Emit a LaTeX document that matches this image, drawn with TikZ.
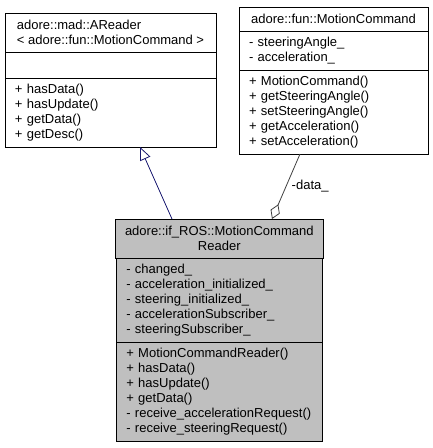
\documentclass[tikz,border=0pt]{standalone}
\usepackage{fontspec}
\setmainfont{Liberation Sans}
\usetikzlibrary{positioning,arrows.meta}

\definecolor{inhblue}{RGB}{25,25,112}
\definecolor{agggray}{RGB}{64,64,64}
\definecolor{cfill}{RGB}{191,191,191}

\begin{document}
\begin{tikzpicture}[x=1pt,y=-1pt,
		every node/.style={font=\fontsize{13}{15}\selectfont},
		part/.style={draw=black,line width=1pt,fill=white,inner xsep=10pt,inner ysep=0pt,outer sep=0pt},
		hdr/.style={part,align=center},
		memb/.style={part,align=left},
		aw/.style={minimum width=211pt,text width=191pt},
		mw/.style={minimum width=189pt,text width=169pt},
		rw/.style={minimum width=206pt,text width=186pt},
		inherit/.style={draw=inhblue,line width=0.8pt,-{Triangle[open,length=13pt,width=11pt]}},
		aggreg/.style={draw=agggray,line width=0.8pt,-{Diamond[open,length=16pt,width=10pt]}}]
		
		\useasboundingbox (0,0) rectangle (432,448);
		
		% AReader
		\node[hdr,align=left,minimum width=211pt,minimum height=39pt,anchor=north west] (ahead) at (5,13)
		{adore::mad::AReader\\< adore::fun::MotionCommand >};
		\node[memb,aw,minimum height=26pt,below=0pt of ahead] (aattr) {};
		\node[memb,aw,minimum height=69pt,below=0pt of aattr] (ameth)
		{+ hasData()\\+ hasUpdate()\\+ getData()\\+ getDesc()};
		
		% MotionCommand
		\node[hdr,minimum width=189pt,minimum height=24pt,anchor=north west] (mhead) at (239,7)
		{adore::fun::MotionCommand};
		\node[memb,mw,minimum height=39pt,below=0pt of mhead] (mattr)
		{- steeringAngle\_\\- acceleration\_};
		\node[memb,mw,minimum height=84pt,below=0pt of mattr] (mmeth)
		{+ MotionCommand()\\+ getSteeringAngle()\\+ setSteeringAngle()\\+ getAcceleration()\\+ setAcceleration()};
		
		% MotionCommandReader
		\node[hdr,fill=cfill,minimum width=206pt,minimum height=39pt,anchor=north west] (rhead) at (115,219)
		{adore::if\_ROS::MotionCommand\\Reader};
		\node[memb,rw,fill=cfill,minimum height=84pt,below=0pt of rhead] (rattr)
		{- changed\_\\- acceleration\_initialized\_\\- steering\_initialized\_\\- accelerationSubscriber\_\\- steeringSubscriber\_};
		\node[memb,rw,fill=cfill,minimum height=99pt,below=0pt of rattr] (rmeth)
		{+ MotionCommandReader()\\+ hasData()\\+ hasUpdate()\\+ getData()\\- receive\_accelerationRequest()\\- receive\_steeringRequest()};
		
		% Inheritance
		\draw[inherit] ([xshift=57pt]rhead.north west) -- ([xshift=135pt]ameth.south west);
		
		% Aggregation
		\draw[aggreg] ([xshift=61pt]mmeth.south west) -- ([xshift=157pt]rhead.north west)
		node[pos=0.5,right,xshift=2pt]{-data\_};
		
	\end{tikzpicture}
\end{document}
